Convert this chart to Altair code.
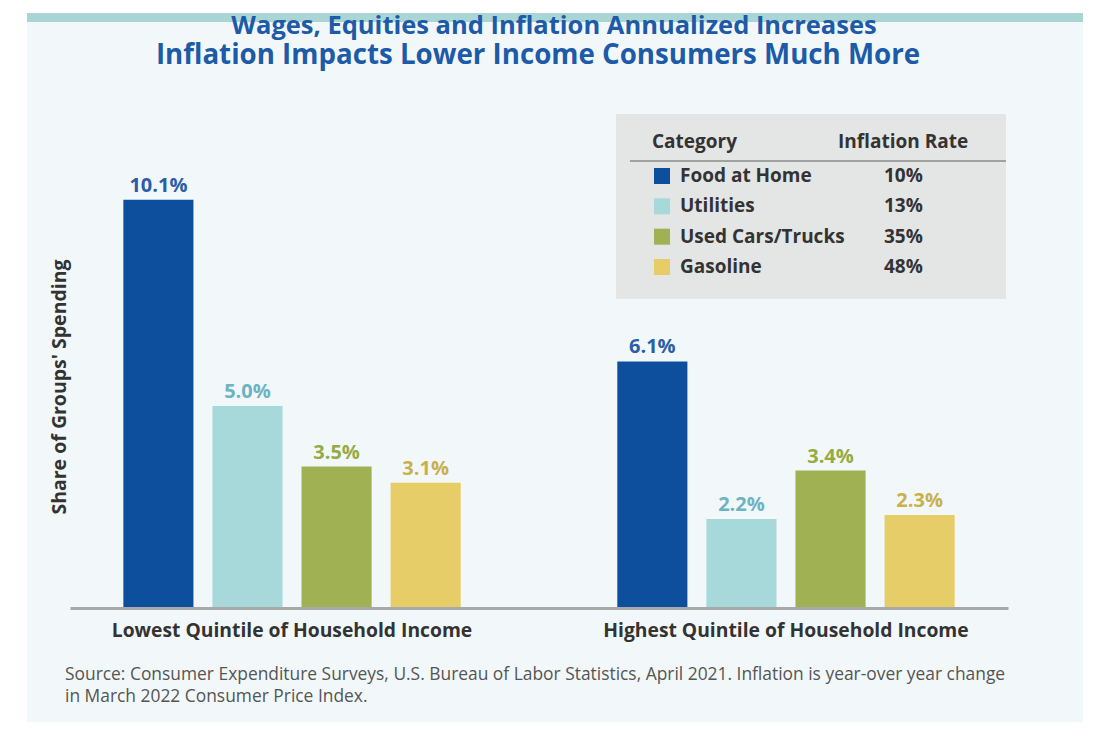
import altair as alt
import pandas as pd

# ---------------- data ----------------
groups = ["Lowest Quintile of Household Income", "Highest Quintile of Household  Income"]
categories = ["Food at Home", "Utilities", "Used Cars/Trucks", "Gasoline"]
lowest_vals = [10.1, 5.0, 3.5, 3.1]
highest_vals = [6.1, 2.2, 3.4, 2.3]
inflation_rates = ["10%", "13%", "35%", "48%"]
bar_colors = ["#0d4f9c", "#a8d9da", "#9fb152", "#e7cd68"]
label_colors = ["#2a5ea8", "#6db3c3", "#95ab45", "#c9b04a"]

title_lines = ["Wages, Equities and Inflation Annualized Increases",
               "Inflation Impacts Lower Income Consumers Much More"]
y_title = "Share of Groups' Spending"
source_lines = ["Source: Consumer Expenditure Surveys, U.S. Bureau of Labor Statistics, April 2021. Inflation is year-over year change",
                "in March 2022 Consumer Price Index."]
legend_headers = ["Category", "Inflation Rate"]

rows = []
for g, vals in zip(groups, [lowest_vals, highest_vals]):
    for c, v, bc, lc in zip(categories, vals, bar_colors, label_colors):
        rows.append({"group": g, "category": c, "value": v,
                     "label": f"{v:.1f}%", "barColor": bc, "labelColor": lc})
bars_df = pd.DataFrame(rows)

legend_df = pd.DataFrame({"row": list(range(len(categories))), "category": categories,
                          "rate": inflation_rates, "color": bar_colors})

BOLD = "Open Sans"
REG = "Open Sans"
W, H = 938, 485
one = alt.Data(values=[{"k": 1}])

x_enc = alt.X("group:N", sort=groups, title=None,
              scale=alt.Scale(paddingInner=0.317, paddingOuter=0.108),
              axis=alt.Axis(labelAngle=0, labelFontSize=19.3, labelFontWeight="bold",
                            labelColor="#333333", labelFont=BOLD, labelPadding=13,
                            labelLimit=0, ticks=False, domainColor="#a8a8a8", domainWidth=3,
                            grid=False, zindex=1))
xo_enc = alt.XOffset("category:N", sort=categories,
                     scale=alt.Scale(paddingInner=0.213, paddingOuter=0))
y_enc = alt.Y("value:Q", scale=alt.Scale(domain=[0, 12]), axis=None)

# --- decorations ---
panel = alt.Chart(one).mark_rect(color="#f2f8f9").encode(
    x=alt.value(-43), x2=alt.value(1013), y=alt.value(-109), y2=alt.value(599))
stripe = alt.Chart(one).mark_rect(color="#a9d6d5").encode(
    x=alt.value(-43), x2=alt.value(1013), y=alt.value(-110), y2=alt.value(-101))
title1 = alt.Chart(one).mark_text(text=title_lines[0], font=BOLD, fontSize=25.5, fontWeight="bold",
                                  color="#1d5aa8", align="center", baseline="alphabetic").encode(
    x=alt.value(484), y=alt.value(-89))
title2 = alt.Chart(one).mark_text(text=title_lines[1], font=BOLD, fontSize=27.7, fontWeight="bold",
                                  color="#1d5aa8", align="center", baseline="alphabetic").encode(
    x=alt.value(468), y=alt.value(-59))
ytitle = alt.Chart(one).mark_text(text=y_title, font=BOLD, fontSize=19.5, fontWeight="bold",
                                  color="#333333", angle=270, align="center", baseline="middle").encode(
    x=alt.value(-10), y=alt.value(264))
src1 = alt.Chart(one).mark_text(text=source_lines[0], font=REG, fontSize=17.4, color="#555555",
                                align="left", baseline="middle").encode(x=alt.value(-5), y=alt.value(552))
src2 = alt.Chart(one).mark_text(text=source_lines[1], font=REG, fontSize=17.4, color="#555555",
                                align="left", baseline="middle").encode(x=alt.value(-5), y=alt.value(574))

# --- bars ---
bars = alt.Chart(bars_df).mark_bar().encode(
    x=x_enc, xOffset=xo_enc, y=y_enc, color=alt.Color("barColor:N", scale=None))
bar_labels = alt.Chart(bars_df).mark_text(font=BOLD, fontSize=20, fontWeight="bold",
                                          baseline="alphabetic", dy=-8).encode(
    x=x_enc, xOffset=xo_enc, y=y_enc, text="label:N", color=alt.Color("labelColor:N", scale=None))
bar_layer = alt.layer(bars, bar_labels)

# --- legend table ---
lbox = alt.Chart(one).mark_rect(color="#e4e5e5").encode(
    x=alt.value(546), x2=alt.value(936), y=alt.value(-9), y2=alt.value(176))
lsep = alt.Chart(one).mark_rule(color="#8a8a8a", strokeWidth=1.5).encode(
    x=alt.value(560), x2=alt.value(936), y=alt.value(38))
lh1 = alt.Chart(one).mark_text(text=legend_headers[0], font=BOLD, fontSize=19, fontWeight="bold",
                               color="#333333", align="left", baseline="middle").encode(
    x=alt.value(582), y=alt.value(19))
lh2 = alt.Chart(one).mark_text(text=legend_headers[1], font=BOLD, fontSize=19, fontWeight="bold",
                               color="#333333", align="left", baseline="middle").encode(
    x=alt.value(768), y=alt.value(19))
row_y = alt.Y("row:O", scale=alt.Scale(range=[53, 144], padding=0), axis=None)
lsw = alt.Chart(legend_df).mark_square(size=256, opacity=1).encode(
    x=alt.value(592), y=row_y, color=alt.Color("color:N", scale=None))
lname = alt.Chart(legend_df).mark_text(font=BOLD, fontSize=19, fontWeight="bold", color="#333333",
                                       align="left", baseline="middle").encode(
    x=alt.value(610), y=row_y, text="category:N")
lrate = alt.Chart(legend_df).mark_text(font=BOLD, fontSize=19, fontWeight="bold", color="#333333",
                                       align="left", baseline="middle").encode(
    x=alt.value(814), y=row_y, text="rate:N")
legend_layer = alt.layer(lsw, lname, lrate)

chart = alt.layer(panel, stripe, title1, title2, ytitle, src1, src2, bar_layer,
                  lbox, lsep, lh1, lh2, legend_layer).resolve_scale(
    y="independent", x="independent").properties(
    width=W, height=H,
    autosize=alt.AutoSizeParams(type="none"),
    padding={"left": 62, "top": 115, "right": 78, "bottom": 114},
    background="white",
).configure_view(stroke=None)

chart.save("out.html", embed_options={"renderer": "svg", "actions": False})
